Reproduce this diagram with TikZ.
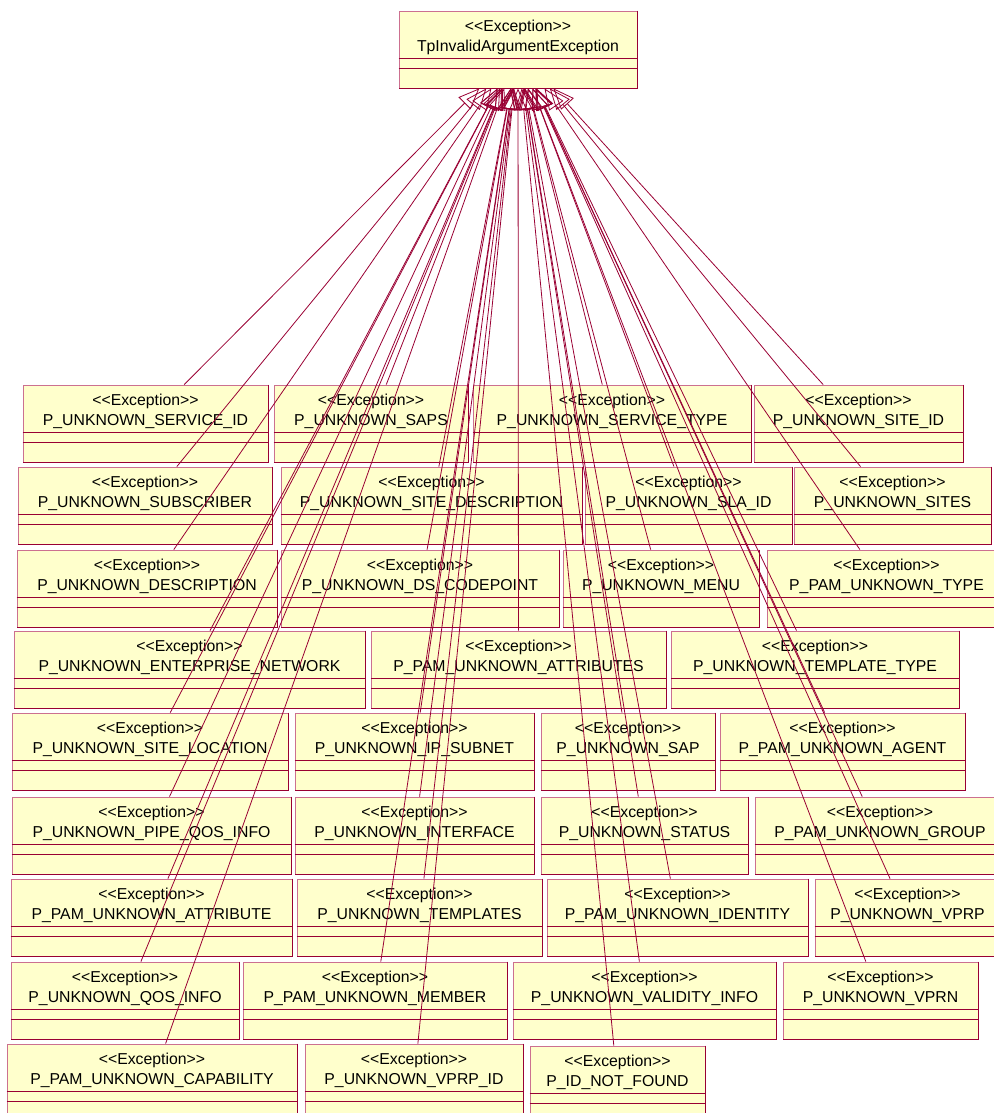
\documentclass[tikz,border=0pt]{standalone}
\usepackage{fontspec}
\setmainfont{Liberation Sans}
\usetikzlibrary{arrows.meta,fit}

\definecolor{umlfill}{HTML}{FFFFCC}
\definecolor{umlline}{HTML}{990033}
\definecolor{umllight}{HTML}{CC7090}

\newcommand{\exst}{<\kern0pt<Exception>\kern0pt>}
% class box: name, left, right, top, class name
\newcommand{\exbox}[5]{%
	\node[cls, fit={(#2,#4) (#3,#4+77)}] (#1) {};
	\draw[rim] (#1.north east) -- (#1.south east) -- (#1.south west);
	\draw[divider] ([yshift=-48pt]#1.north west) -- ([yshift=-48pt]#1.north east);
	\draw[divider] ([yshift=-58pt]#1.north west) -- ([yshift=-58pt]#1.north east);
	\node[lbl] (#1-s) at ([yshift=-21pt]#1.north) {\exst};
	\node[lbl] (#1-n) at ([yshift=-41pt]#1.north) {#5};
}

\begin{document}
\begin{tikzpicture}[x=1pt, y=-1pt,
	cls/.style={draw=umllight, fill=umlfill, line width=0.8pt, inner sep=0pt},
	rim/.style={draw=umlline, line width=1.4pt},
	divider/.style={draw=umlline, line width=0.7pt},
	lbl/.style={anchor=base, inner sep=0pt, font=\fontsize{15.8}{18}\selectfont},
	gen/.style={draw=umlline, line width=0.8pt, -{Triangle[open,length=21pt,width=17pt]}}]
	\useasboundingbox (0,0) rectangle (993,1113);
	% parent
	\exbox{tia}{399}{637}{11}{TpInvalidArgumentException}
	% row 1
	\exbox{sid}{23}{268}{385}{P\_UNKNOWN\_SERVICE\_ID}
	\exbox{saps}{274}{468}{385}{P\_UNKNOWN\_SAPS}
	\exbox{stype}{473}{751}{385}{P\_UNKNOWN\_SERVICE\_TYPE}
	\exbox{siteid}{754}{963}{385}{P\_UNKNOWN\_SITE\_ID}
	% row 2
	\exbox{subscr}{18}{272}{467}{P\_UNKNOWN\_SUBSCRIBER}
	\exbox{sitedesc}{281}{582}{467}{P\_UNKNOWN\_SITE\_DESCRIPTION}
	\exbox{slaid}{585}{792}{467}{P\_UNKNOWN\_SLA\_ID}
	\exbox{sites}{794}{991}{467}{P\_UNKNOWN\_SITES}
	% row 3
	\exbox{desc}{17}{277}{550}{P\_UNKNOWN\_DESCRIPTION}
	\exbox{dscp}{281}{559}{550}{P\_UNKNOWN\_DS\_CODEPOINT}
	\exbox{menu}{563}{759}{550}{P\_UNKNOWN\_MENU}
	\exbox{pamtype}{767}{1006}{550}{P\_PAM\_UNKNOWN\_TYPE}
	% row 4
	\exbox{entnet}{14}{365}{631}{P\_UNKNOWN\_ENTERPRISE\_NETWORK}
	\exbox{pamattrs}{371}{666}{631}{P\_PAM\_UNKNOWN\_ATTRIBUTES}
	\exbox{tpltype}{671}{959}{631}{P\_UNKNOWN\_TEMPLATE\_TYPE}
	% row 5
	\exbox{siteloc}{12}{288}{713}{P\_UNKNOWN\_SITE\_LOCATION}
	\exbox{ipsub}{295}{534}{713}{P\_UNKNOWN\_IP\_SUBNET}
	\exbox{sap}{541}{715}{713}{P\_UNKNOWN\_SAP}
	\exbox{pamagent}{720}{965}{713}{P\_PAM\_UNKNOWN\_AGENT}
	% row 6
	\exbox{pipeqos}{12}{291}{797}{P\_UNKNOWN\_PIPE\_QOS\_INFO}
	\exbox{iface}{295}{534}{797}{P\_UNKNOWN\_INTERFACE}
	\exbox{status}{541}{748}{797}{P\_UNKNOWN\_STATUS}
	\exbox{pamgroup}{755}{1005}{797}{P\_PAM\_UNKNOWN\_GROUP}
	% row 7
	\exbox{pamattr}{11}{292}{879}{P\_PAM\_UNKNOWN\_ATTRIBUTE}
	\exbox{templates}{297}{542}{879}{P\_UNKNOWN\_TEMPLATES}
	\exbox{pamident}{547}{808}{879}{P\_PAM\_UNKNOWN\_IDENTITY}
	\exbox{vprp}{815}{1000}{879}{P\_UNKNOWN\_VPRP}
	% row 8
	\exbox{qosinfo}{11}{239}{962}{P\_UNKNOWN\_QOS\_INFO}
	\exbox{pammember}{243}{507}{962}{P\_PAM\_UNKNOWN\_MEMBER}
	\exbox{validity}{513}{776}{962}{P\_UNKNOWN\_VALIDITY\_INFO}
	\exbox{vprn}{783}{978}{962}{P\_UNKNOWN\_VPRN}
	% row 9
	\exbox{pamcap}{7}{297}{1044}{P\_PAM\_UNKNOWN\_CAPABILITY}
	\exbox{vprpid}{305}{523}{1044}{P\_UNKNOWN\_VPRP\_ID}
	\exbox{idnf}{530}{705}{1046}{P\_ID\_NOT\_FOUND}
	% generalizations
	\draw[gen] (sid) -- (tia);
	\draw[gen] (saps) -- (tia);
	\draw[gen] (stype) -- (tia);
	\draw[gen] (siteid) -- (tia);
	\draw[gen] (subscr) -- (tia);
	\draw[gen] (sitedesc) -- (tia);
	\draw[gen] (slaid) -- (tia);
	\draw[gen] (sites) -- (tia);
	\draw[gen] (desc) -- (tia);
	\draw[gen] (dscp) -- (tia);
	\draw[gen] (menu) -- (tia);
	\draw[gen] (pamtype) -- (tia);
	\draw[gen] (entnet) -- (tia);
	\draw[gen] (pamattrs) -- (tia);
	\draw[gen] (tpltype) -- (tia);
	\draw[gen] (siteloc) -- (tia);
	\draw[gen] (ipsub) -- (tia);
	\draw[gen] (sap) -- (tia);
	\draw[gen] (pamagent) -- (tia);
	\draw[gen] (pipeqos) -- (tia);
	\draw[gen] (iface) -- (tia);
	\draw[gen] (status) -- (tia);
	\draw[gen] (pamgroup) -- (tia);
	\draw[gen] (pamattr) -- (tia);
	\draw[gen] (templates) -- (tia);
	\draw[gen] (pamident) -- (tia);
	\draw[gen] (vprp) -- (tia);
	\draw[gen] (qosinfo) -- (tia);
	\draw[gen] (pammember) -- (tia);
	\draw[gen] (validity) -- (tia);
	\draw[gen] (vprn) -- (tia);
	\draw[gen] (pamcap) -- (tia);
	\draw[gen] (vprpid) -- (tia);
	\draw[gen] (idnf) -- (tia);
\end{tikzpicture}
\end{document}
